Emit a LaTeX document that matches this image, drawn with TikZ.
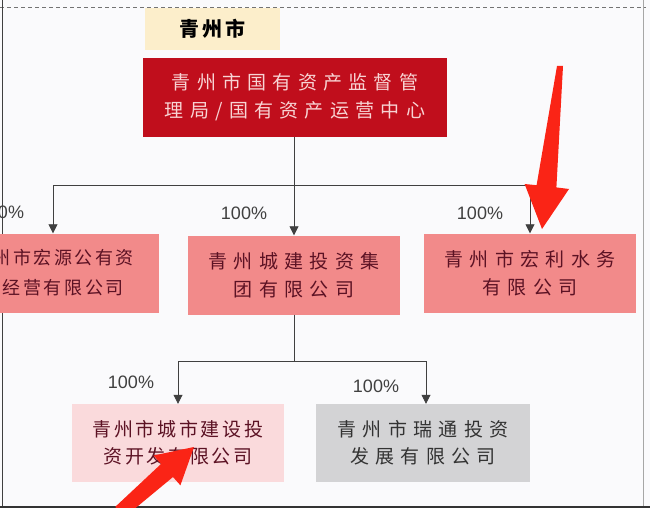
\documentclass[tikz,border=0pt]{standalone}
\usepackage{fontspec}
\setsansfont{Liberation Sans}
\newfontfamily\cjk[LetterSpace=33]{Noto Sans CJK SC}
\newfontfamily\cjknarrow[LetterSpace=14]{Noto Sans CJK SC}
\newfontfamily\cjktitle[LetterSpace=17]{Noto Sans CJK SC}
\usetikzlibrary{arrows.meta}

\definecolor{bgpaper}{RGB}{250,250,252}
\definecolor{cityyellow}{RGB}{252,238,203}
\definecolor{sasacred}{RGB}{192,14,28}
\definecolor{sasactext}{RGB}{248,212,212}
\definecolor{firmpink}{RGB}{242,138,138}
\definecolor{firmtext}{RGB}{92,18,36}
\definecolor{lightpink}{RGB}{250,218,220}
\definecolor{firmgray}{RGB}{211,211,213}
\definecolor{annotred}{RGB}{250,36,22}

\begin{document}
\begin{tikzpicture}[x=1pt,y=-1pt,%
    orgbox/.style={%
        minimum width=212pt,
        minimum height=79pt,
        inner sep=0pt,
        align=center,
        fill=firmpink,
        text=firmtext,
        font=\cjk\fontsize{19}{28}\selectfont,
    },
    link/.style={draw=black!75, line width=0.8pt},
    share/.style={link, -{Triangle[width=9pt,length=9pt]}},
    pct/.style={font=\sffamily\fontsize{18}{20}\selectfont, text=black!75},
    annot/.style={fill=annotred, draw=none}
]
\useasboundingbox (0,0) rectangle (650,508);
\clip (0,0) rectangle (650,508);
\fill[bgpaper] (0,0) rectangle (650,508);

% 边框
\draw[black!55, dash pattern=on 4pt off 3pt, line width=0.8pt] (0,7) -- (646,7);
\draw[black!75, line width=1pt] (2,0) -- (2,508);
\draw[black!35, line width=1pt] (643,0) -- (643,508);
\draw[black!80, line width=3pt] (0,507) -- (650,507);

% 节点
\node[fill=cityyellow, minimum width=135pt, minimum height=42pt, inner sep=0pt,
      font=\cjktitle\fontsize{20}{22}\selectfont\bfseries] (city) at (212.5,29) {青州市};
\node[orgbox, fill=sasacred, text=sasactext, minimum width=304pt]
      (sasac) at (295,97.5) {青州市国有资产监督管\\理局/国有资产运营中心};
\node[orgbox, font=\cjknarrow\fontsize{18}{30}\selectfont]
      (hongyuan)  at (53,273)  {青州市宏源公有资\\产经营有限公司};
\node[orgbox] (chengjian) at (294,275) {青州城建投资集\\团有限公司};
\node[orgbox] (hongli)    at (530,273) {青州市宏利水务\\有限公司};
\node[orgbox, fill=lightpink, minimum height=78pt, font=\cjknarrow\fontsize{19}{27}\selectfont]
      (chengshi) at (178,443) {青州市城市建设投\\资开发有限公司};
\node[orgbox, fill=firmgray, text=black!80, minimum width=214pt, minimum height=78pt,
      font=\cjk\fontsize{19}{27}\selectfont]
      (ruitong) at (423,443) {青州市瑞通投资\\发展有限公司};

% 连线
\coordinate (split1) at (294,185);
\coordinate (split2) at (294,361);
\draw[link] (sasac.south -| split1) -- (split1);
\draw[share] (split1) -| (hongyuan);
\draw[share] (split1) -- (chengjian);
\draw[share] (split1) -| (hongli);
\draw[link] (chengjian) -- (split2);
\draw[share] (split2) -| (chengshi);
\draw[share] (split2) -| ([xshift=3pt]ruitong.north);

% 持股比例
\node[pct] (p1) at (1,212)   {100\%};
\node[pct] (p2) at (244,213) {100\%};
\node[pct] (p3) at (480,213) {100\%};
\node[pct] (p4) at (131,382) {100\%};
\node[pct] (p5) at (376,386) {100\%};

% 红色箭头标注
\fill[annot] (557,66) -- (563,66) -- (556.4,187.4) -- (569,189) -- (542,229)
    -- (524.6,184) -- (536.6,185.2) -- cycle;
\fill[annot] (194,447) -- (180.4,485.3) -- (173,477) -- (124.7,517) -- (115.3,506.8)
    -- (161,464) -- (153.6,455.5) -- cycle;
\end{tikzpicture}
\end{document}
